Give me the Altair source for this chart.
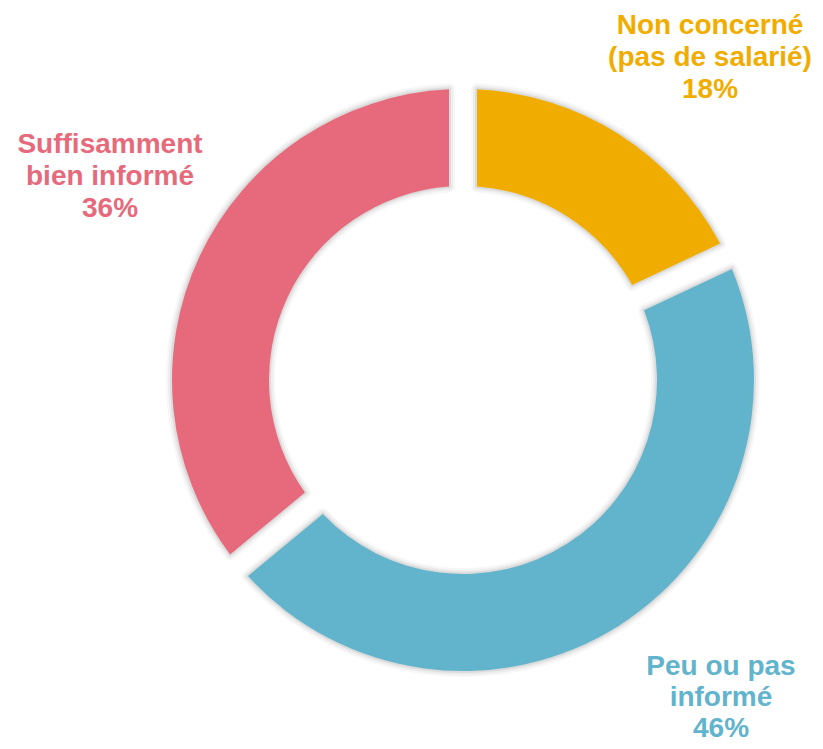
import altair as alt
import pandas as pd

categories = ["Non concerné", "Peu ou pas informé", "Suffisamment bien informé"]
shares = [18, 46, 36]
colors = ["#F0AD00", "#62B4CC", "#E66A7B"]
labels = ["Non concerné\n(pas de salarié)\n18%", "Peu ou pas\ninformé\n46%", "Suffisamment\nbien informé\n36%"]

df = pd.DataFrame({"cat": categories, "share": shares, "ord": [0, 1, 2], "label": labels})

CX, CY = 455, 372
R_IN, R_OUT = 194, 291
PAD = 0.08

color_scale = alt.Scale(domain=categories, range=colors)

base = alt.Chart(df).encode(
    theta=alt.Theta("share:Q", stack=True),
    order=alt.Order("ord:Q"),
    x=alt.value(CX),
    y=alt.value(CY),
)

shadows = []
for sw, so in [(12, 0.03), (8, 0.04), (4, 0.07)]:
    shadows.append(
        base.mark_arc(innerRadius=R_IN, outerRadius=R_OUT, padAngle=PAD,
                      fill="#000000", fillOpacity=0, stroke="#000000",
                      strokeWidth=sw, strokeOpacity=so, strokeJoin="round",
                      dx=1, dy=2)
    )

arcs = base.mark_arc(innerRadius=R_IN, outerRadius=R_OUT, padAngle=PAD).encode(
    color=alt.Color("cat:N", scale=color_scale, legend=None)
)

# (x, y of first baseline, line height)
label_pos = {
    "Non concerné": (702, 26, 32),
    "Peu ou pas informé": (713, 667, 31),
    "Suffisamment bien informé": (102, 145, 32),
}

texts = []
for cat, (lx, ly, lh) in label_pos.items():
    texts.append(
        alt.Chart(df).transform_filter(alt.datum.cat == cat).mark_text(
            font="Liberation Sans", fontWeight="bold", fontSize=28,
            lineBreak="\n", lineHeight=lh, align="center", baseline="alphabetic",
        ).encode(
            text="label:N",
            x=alt.value(lx),
            y=alt.value(ly),
            color=alt.Color("cat:N", scale=color_scale, legend=None),
        )
    )

chart = alt.layer(*shadows, arcs, *texts).properties(
    width=807, height=733, padding=0, autosize=alt.AutoSizeParams(type="none")
).configure_view(stroke=None)

chart.save("out.html", embed_options={"renderer": "svg", "actions": False})
